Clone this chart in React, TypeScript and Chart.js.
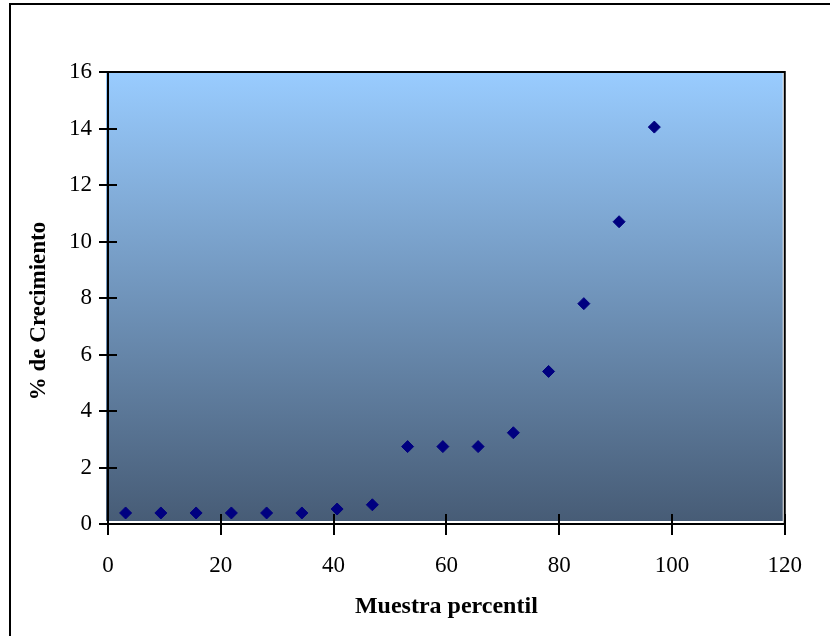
import React, { useEffect, useRef } from "react";
import { Chart, registerables } from "chart.js";

Chart.register(...registerables);

const percentil = [3.125, 9.375, 15.625, 21.875, 28.125, 34.375, 40.625, 46.875, 53.125, 59.375, 65.625, 71.875, 78.125, 84.375, 90.625, 96.875];
const crecimiento = [0.39, 0.39, 0.39, 0.39, 0.39, 0.39, 0.53, 0.68, 2.74, 2.74, 2.74, 3.23, 5.4, 7.8, 10.7, 14.05];
const xTicks = [0, 20, 40, 60, 80, 100, 120];
const yTicks = [0, 2, 4, 6, 8, 10, 12, 14, 16];
const xTitle = "Muestra percentil";
const yTitle = "% de Crecimiento";

const FONT = "'Liberation Serif', 'Times New Roman', serif";

const framePlugin = {
  id: "framePlugin",
  beforeDatasetsDraw(chart: any) {
    const { ctx, chartArea } = chart;
    const { left, right, top, bottom } = chartArea;
    const xs = chart.scales.x;
    const ys = chart.scales.y;
    ctx.save();
    // outer frame
    ctx.strokeStyle = "#000";
    ctx.lineWidth = 2;
    ctx.beginPath();
    ctx.moveTo(10, 640);
    ctx.lineTo(10, 4);
    ctx.lineTo(832, 4);
    ctx.stroke();
    // gradient plot background
    const g = ctx.createLinearGradient(0, top, 0, bottom - 3);
    g.addColorStop(0, "#99CCFF");
    g.addColorStop(1, "#475C76");
    ctx.fillStyle = g;
    ctx.fillRect(left - 2, top, right - left, bottom - 3 - top);
    // plot border top/right
    ctx.lineWidth = 2;
    ctx.beginPath();
    ctx.moveTo(left, top);
    ctx.lineTo(right, top);
    ctx.lineTo(right, bottom);
    ctx.stroke();
    // axes
    ctx.beginPath();
    ctx.moveTo(left, top);
    ctx.lineTo(left, bottom);
    ctx.lineTo(right, bottom);
    ctx.stroke();
    // ticks
    ctx.beginPath();
    xTicks.forEach((v) => {
      const px = Math.round(xs.getPixelForValue(v));
      ctx.moveTo(px, bottom - 10);
      ctx.lineTo(px, bottom + 11);
    });
    yTicks.forEach((v) => {
      const py = Math.round(ys.getPixelForValue(v));
      ctx.moveTo(left - 9, py);
      ctx.lineTo(left + 9, py);
    });
    ctx.stroke();
    // y title
    ctx.translate(39, 311);
    ctx.rotate(-Math.PI / 2);
    ctx.fillStyle = "#000";
    ctx.font = "bold 23px " + FONT;
    ctx.textAlign = "center";
    ctx.textBaseline = "middle";
    ctx.fillText(yTitle, 0, 0);
    ctx.restore();
  },
};

export default function App() {
  const ref = useRef<HTMLCanvasElement>(null);
  useEffect(() => {
    if (!ref.current) return;
    const chart = new Chart(ref.current, {
      type: "scatter",
      data: {
        datasets: [
          {
            label: "Crecimiento",
            data: percentil.map((x, i) => ({ x, y: crecimiento[i] })),
            pointStyle: "rectRot",
            pointRadius: 6,
            pointBorderWidth: 1,
            backgroundColor: "#000080",
            borderColor: "#000080",
          },
        ],
      },
      options: {
        responsive: false,
        animation: false,
        devicePixelRatio: 1,
        layout: { padding: { top: 72, right: 39, left: 0, bottom: 0 } },
        plugins: { legend: { display: false }, tooltip: { enabled: false } },
        scales: {
          x: {
            type: "linear",
            min: 0,
            max: 120,
            afterFit: (s: any) => { s.height = 112; },
            afterBuildTicks: (s: any) => { s.ticks = xTicks.map((v) => ({ value: v })); },
            ticks: { color: "#000", font: { family: FONT, size: 23 }, padding: 28 },
            grid: { display: false, drawTicks: false },
            border: { display: false },
            title: {
              display: true,
              text: xTitle,
              color: "#000",
              font: { family: FONT, size: 24, weight: "bold" },
              padding: { top: 0, bottom: 15 },
            },
          },
          y: {
            type: "linear",
            min: 0,
            max: 16,
            afterFit: (s: any) => { s.width = 108; },
            afterBuildTicks: (s: any) => { s.ticks = yTicks.map((v) => ({ value: v })); },
            ticks: { color: "#000", font: { family: FONT, size: 23 }, padding: 16 },
            grid: { display: false, drawTicks: false },
            border: { display: false },
          },
        },
      },
      plugins: [framePlugin],
    });
    return () => chart.destroy();
  }, []);
  return (
    <div style={{ position: "fixed", left: 0, top: 0, width: 830, height: 636, background: "#fff" }}>
      <canvas ref={ref} width={830} height={636} style={{ width: 830, height: 636 }} />
    </div>
  );
}
